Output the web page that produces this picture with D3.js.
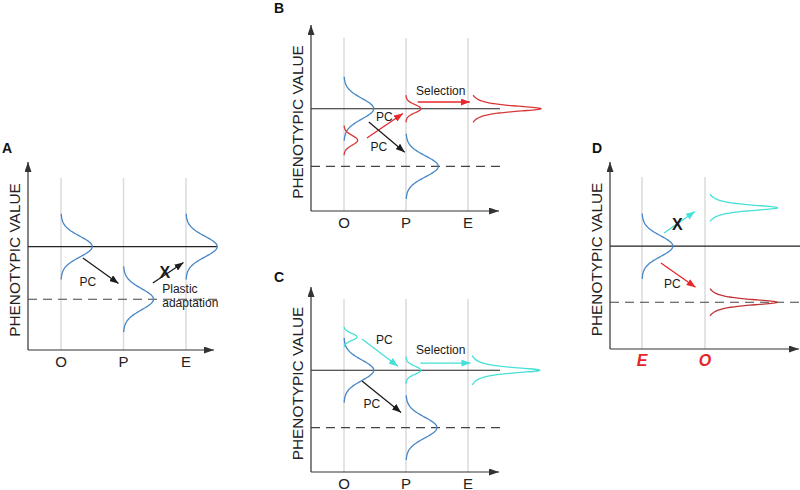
<!DOCTYPE html>
<html>
<head>
<meta charset="utf-8">
<script src="https://cdn.jsdelivr.net/npm/d3@7"></script>
<style>
  html, body { margin: 0; padding: 0; background: #fff; }
  svg { display: block; font-family: "Liberation Sans", Arial, Helvetica, sans-serif; }
</style>
</head>
<body>
<svg id="chart" width="800" height="490"></svg>
<script>
// ---------------- DATA ----------------
const panelNames = ["A", "B", "C", "D"];
const columnsABC = ["O", "P", "E"];
const columnsD = ["E", "O"];
const yAxisTitle = "PHENOTYPIC VALUE";

// reference phenotype lines (value on 0-100 phenotypic scale)
const solidLines = [
  { panel: "A", value: 55 }, { panel: "B", value: 55 },
  { panel: "C", value: 55 }, { panel: "D", value: 55 }
];
const dashedLines = [
  { panel: "A", value: 27 }, { panel: "B", value: 24 },
  { panel: "C", value: 24 }, { panel: "D", value: 25 }
];

// distributions: column, mean, spread, half extent, peak density, shape, series
const distributions = [
  { panel: "A", col: "O", mean: 55, sd: 5.5, half: 17.5, peak: 0.50, shape: "normal", series: "base" },
  { panel: "A", col: "P", mean: 27, sd: 5.6, half: 17.5, peak: 0.48, shape: "normal", series: "base" },
  { panel: "A", col: "E", mean: 55, sd: 5.5, half: 17.5, peak: 0.50, shape: "normal", series: "base" },

  { panel: "B", col: "O", mean: 55, sd: 5.5, half: 17.2, peak: 0.48, shape: "normal", series: "base" },
  { panel: "B", col: "O", mean: 38, sd: 2.6, half: 8.0, peak: 0.22, shape: "normal", series: "red" },
  { panel: "B", col: "P", mean: 55, sd: 2.2, half: 7.3, peak: 0.24, shape: "normal", series: "red" },
  { panel: "B", col: "P", mean: 24, sd: 5.6, half: 17.5, peak: 0.52, shape: "normal", series: "base" },
  { panel: "B", col: "E", mean: 55, sd: 2.0, half: 7.3, peak: 1.18, shape: "peaked", series: "red" },

  { panel: "C", col: "O", mean: 55, sd: 5.5, half: 17.5, peak: 0.48, shape: "normal", series: "base" },
  { panel: "C", col: "O", mean: 73, sd: 1.9, half: 5.5, peak: 0.21, shape: "normal", series: "cyan" },
  { panel: "C", col: "P", mean: 55, sd: 2.2, half: 7.3, peak: 0.24, shape: "normal", series: "cyan" },
  { panel: "C", col: "P", mean: 24, sd: 5.6, half: 17.5, peak: 0.50, shape: "normal", series: "base" },
  { panel: "C", col: "E", mean: 55, sd: 2.0, half: 8.0, peak: 1.16, shape: "peaked", series: "cyan" },

  { panel: "D", col: "E", mean: 55, sd: 5.5, half: 17.5, peak: 0.49, shape: "normal", series: "base" },
  { panel: "D", col: "O", mean: 75.5, sd: 2.0, half: 7.3, peak: 1.15, shape: "peaked", series: "cyan" },
  { panel: "D", col: "O", mean: 25, sd: 2.0, half: 7.3, peak: 1.15, shape: "peaked", series: "darkred" }
];

// arrows: from/to given as [column position (index), phenotypic value]
const arrows = [
  { panel: "A", from: [0.35, 48.9], to: [0.92, 35.4], series: "black" },
  { panel: "A", from: [1.47, 35.6], to: [1.96, 46.5], series: "black" },

  { panel: "B", from: [0.37, 39.2], to: [0.95, 52.4], series: "redArrow" },
  { panel: "B", from: [0.40, 47.8], to: [0.98, 31.6], series: "black" },
  { panel: "B", from: [1.19, 58.6], to: [2.03, 58.6], series: "redArrow" },

  { panel: "C", from: [0.29, 71.9], to: [0.87, 57.2], series: "cyan" },
  { panel: "C", from: [1.23, 58.9], to: [2.04, 58.9], series: "cyan" },
  { panel: "C", from: [0.29, 49.2], to: [0.92, 32.2], series: "black" },

  { panel: "D", from: [0.35, 62.0], to: [0.84, 73.5], series: "cyan" },
  { panel: "D", from: [0.30, 46.0], to: [0.85, 33.0], series: "redArrow" }
];

// annotations: [column position, phenotypic value]
const annotations = [
  { panel: "A", at: [0.43, 36.2], text: "PC", kind: "label", anchor: "middle" },
  { panel: "A", at: [1.66, 41.0], text: "X", kind: "cross", anchor: "middle" },
  { panel: "A", at: [1.62, 32.2], text: "Plastic", kind: "label", anchor: "start" },
  { panel: "A", at: [1.62, 24.8], text: "adaptation", kind: "label", anchor: "start" },

  { panel: "B", at: [0.65, 50.5], text: "PC", kind: "label", anchor: "middle" },
  { panel: "B", at: [0.56, 34.4], text: "PC", kind: "label", anchor: "middle" },
  { panel: "B", at: [1.56, 64.6], text: "Selection", kind: "label", anchor: "middle" },

  { panel: "C", at: [0.65, 71.4], text: "PC", kind: "label", anchor: "middle" },
  { panel: "C", at: [1.56, 66.0], text: "Selection", kind: "label", anchor: "middle" },
  { panel: "C", at: [0.45, 36.8], text: "PC", kind: "label", anchor: "middle" },

  { panel: "D", at: [0.56, 66.8], text: "X", kind: "cross", anchor: "middle" },
  { panel: "D", at: [0.48, 34.8], text: "PC", kind: "label", anchor: "middle" }
];

// ---------------- LAYOUT ----------------
const layout = {
  A: { ax: 28,  bottom: 350, tip: 162, xEnd: 214, lineEnd: 217, gridTop: 178, col0: 61,  step: 62.5, cols: columnsABC, letter: [7, 148], axisLabelColor: "#222", axisLabelStyle: "normal" },
  B: { ax: 311, bottom: 211, tip: 25,  xEnd: 499, lineEnd: 500, gridTop: 38,  col0: 344, step: 62,   cols: columnsABC, letter: [279, 8], axisLabelColor: "#222", axisLabelStyle: "normal" },
  C: { ax: 311, bottom: 472, tip: 287, xEnd: 499, lineEnd: 500, gridTop: 299, col0: 344, step: 62,   cols: columnsABC, letter: [279, 277], axisLabelColor: "#222", axisLabelStyle: "normal" },
  D: { ax: 610, bottom: 349, tip: 162, xEnd: 799, lineEnd: 800, gridTop: 177, col0: 642, step: 63,   cols: columnsD,   letter: [597, 148], axisLabelColor: "#e4262b", axisLabelStyle: "italic" }
};

const color = d3.scaleOrdinal()
  .domain(["base", "red", "darkred", "cyan", "black", "redArrow"])
  .range(["#4a87c6", "#d83a3a", "#c13436", "#45e0d8", "#1c1c1c", "#e8262b"]);

const svg = d3.select("#chart");
const defs = svg.append("defs");

function marker(id, fill, len, wid) {
  defs.append("marker")
    .attr("id", id)
    .attr("viewBox", `0 0 ${len} ${wid}`)
    .attr("refX", len).attr("refY", wid / 2)
    .attr("markerWidth", len).attr("markerHeight", wid)
    .attr("markerUnits", "userSpaceOnUse")
    .attr("orient", "auto")
    .append("path")
    .attr("d", `M0,0 L${len},${wid / 2} L0,${wid} Z`)
    .attr("fill", fill);
}
marker("axisHead", "#333", 10, 7);
["black", "redArrow", "cyan"].forEach(s => marker("head-" + s, color(s), 9, 7));

panelNames.forEach(name => {
  const L = layout[name];
  const g = svg.append("g").attr("class", "panel-" + name);

  const y = d3.scaleLinear().domain([0, 100]).range([L.bottom, L.tip]);
  const xPos = d3.scaleLinear().domain([0, 1]).range([L.col0, L.col0 + L.step]);
  const xCol = d3.scalePoint().domain(L.cols).range([L.col0, L.col0 + L.step * (L.cols.length - 1)]);
  const dens = d3.scaleLinear().domain([0, 1]).range([0, L.step]);

  // grey column guides
  g.selectAll(".guide").data(L.cols).join("line")
    .attr("x1", d => xCol(d)).attr("x2", d => xCol(d))
    .attr("y1", L.gridTop).attr("y2", L.bottom)
    .attr("stroke", "#d9d9d9").attr("stroke-width", 1.4);

  // reference lines
  solidLines.filter(d => d.panel === name).forEach(d => {
    g.append("line").attr("x1", L.ax).attr("x2", L.lineEnd)
      .attr("y1", y(d.value)).attr("y2", y(d.value))
      .attr("stroke", "#222").attr("stroke-width", 1.1);
  });
  dashedLines.filter(d => d.panel === name).forEach(d => {
    g.append("line").attr("x1", L.ax).attr("x2", L.lineEnd)
      .attr("y1", y(d.value)).attr("y2", y(d.value))
      .attr("stroke", "#444").attr("stroke-width", 1.1)
      .attr("stroke-dasharray", "9,6");
  });

  // axes
  g.append("line").attr("x1", L.ax).attr("x2", L.ax)
    .attr("y1", L.bottom).attr("y2", L.tip)
    .attr("stroke", "#333").attr("stroke-width", 1.2)
    .attr("marker-end", "url(#axisHead)");
  g.append("line").attr("x1", L.ax).attr("x2", L.xEnd)
    .attr("y1", L.bottom).attr("y2", L.bottom)
    .attr("stroke", "#333").attr("stroke-width", 1.2)
    .attr("marker-end", "url(#axisHead)");

  // distributions
  const line = d3.line().x(p => p[0]).y(p => p[1]).curve(d3.curveBasis);
  distributions.filter(d => d.panel === name).forEach(d => {
    const ts = d3.range(-d.half, d.half + 0.001, d.half / 60);
    const pts = ts.map(t => {
      const f = d.shape === "normal"
        ? Math.exp(-0.5 * (t / d.sd) * (t / d.sd))
        : 1 / (1 + (t / d.sd) * (t / d.sd));
      return [xCol(d.col) + dens(d.peak * f), y(d.mean + t)];
    });
    g.append("path").attr("d", line(pts))
      .attr("fill", "none").attr("stroke", color(d.series))
      .attr("stroke-width", 1.3);
  });

  // arrows
  arrows.filter(d => d.panel === name).forEach(d => {
    g.append("line")
      .attr("x1", xPos(d.from[0])).attr("y1", y(d.from[1]))
      .attr("x2", xPos(d.to[0])).attr("y2", y(d.to[1]))
      .attr("stroke", color(d.series)).attr("stroke-width", 1.3)
      .attr("marker-end", `url(#head-${d.series})`);
  });

  // annotations
  annotations.filter(d => d.panel === name).forEach(d => {
    g.append("text")
      .attr("x", xPos(d.at[0])).attr("y", y(d.at[1]))
      .attr("text-anchor", d.anchor)
      .attr("dominant-baseline", "central")
      .attr("font-size", d.kind === "cross" ? 16 : 12)
      .attr("font-weight", d.kind === "cross" ? "bold" : "normal")
      .attr("fill", "#1a1a1a")
      .text(d.text);
  });

  // x-axis category labels
  g.selectAll(".cat").data(L.cols).join("text")
    .attr("x", d => xCol(d)).attr("y", L.bottom + 11)
    .attr("text-anchor", "middle").attr("dominant-baseline", "central")
    .attr("font-size", name === "D" ? 16 : 15)
    .attr("font-weight", name === "D" ? "bold" : "normal")
    .attr("font-style", L.axisLabelStyle)
    .attr("fill", L.axisLabelColor)
    .text(d => d);

  // y-axis title
  const cy = (L.bottom + L.tip) / 2 + 4;
  g.append("text")
    .attr("transform", `translate(${L.ax - 13.5},${cy}) rotate(-90)`)
    .attr("text-anchor", "middle").attr("dominant-baseline", "central")
    .attr("font-size", 15.4).attr("fill", "#222")
    .text(yAxisTitle);

  // panel letter
  g.append("text")
    .attr("x", L.letter[0]).attr("y", L.letter[1])
    .attr("text-anchor", "middle").attr("dominant-baseline", "central")
    .attr("font-size", 14).attr("font-weight", "bold").attr("fill", "#111")
    .text(name);
});
</script>
</body>
</html>
